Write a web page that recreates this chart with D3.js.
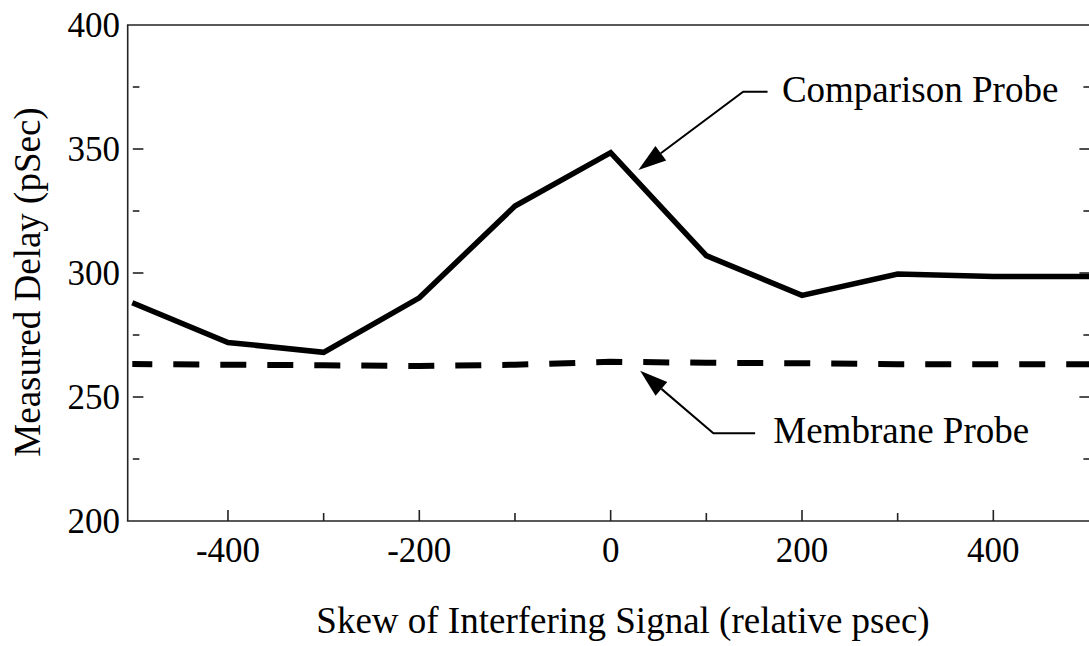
<!DOCTYPE html>
<html><head><meta charset="utf-8">
<script src="https://cdn.jsdelivr.net/npm/d3@7"></script>
<style>html,body{margin:0;padding:0;background:#fff;}</style>
</head><body>
<svg id="chart" width="1089" height="646"></svg>
<script>
const skew = [-500,-400,-300,-200,-100,0,100,200,300,400,500];
const comparisonProbe = [288,272,268,290,327,348.5,307,291,299.6,298.6,298.6];
const membraneProbe = [263.3,263.0,262.8,262.5,263.0,264.2,263.8,263.6,263.2,263.2,263.2];
const xMajorTicks = [-400,-200,0,200,400];
const xMinorTicks = [-300,-100,100,300];
const yMajorTicks = [200,250,300,350,400];
const yMinorTicks = [225,275,325,375];
const xTitle = "Skew of Interfering Signal (relative psec)";
const yTitle = "Measured Delay (pSec)";
const labels = [
  {text:"Comparison Probe", tip:[29,341.5], elbow:[138.5,373.1], end:[164,373.1], textX:179},
  {text:"Membrane Probe", tip:[30.8,260.6], elbow:[107.4,235.4], end:[151,235.4], textX:170}
];

const svg = d3.select("#chart");
const font = "'Liberation Serif','Times New Roman',Times,serif";
const x = d3.scaleLinear().domain([-500,500]).range([132.3,1089]);
const y = d3.scaleLinear().domain([200,400]).range([521,25]);
const axisLeftX = 127.7;
const axisColor = "#222";

// frame: left, top, bottom
svg.append("line").attr("x1",axisLeftX).attr("x2",axisLeftX).attr("y1",y(400)).attr("y2",y(200))
  .attr("stroke",axisColor).attr("stroke-width",1.6);
svg.append("line").attr("x1",axisLeftX-0.8).attr("x2",1095).attr("y1",y(400)).attr("y2",y(400))
  .attr("stroke",axisColor).attr("stroke-width",1.6);
svg.append("line").attr("x1",axisLeftX-0.8).attr("x2",1095).attr("y1",y(200)).attr("y2",y(200))
  .attr("stroke",axisColor).attr("stroke-width",1.6);

// bottom ticks
const tickG = svg.append("g").attr("stroke",axisColor).attr("stroke-width",1.6);
xMajorTicks.forEach(v=>tickG.append("line").attr("x1",x(v)).attr("x2",x(v)).attr("y1",y(200)).attr("y2",y(200)-11));
xMinorTicks.forEach(v=>tickG.append("line").attr("x1",x(v)).attr("x2",x(v)).attr("y1",y(200)).attr("y2",y(200)-8));
// left ticks (offset from axis) and right ticks
const lx0 = x(-500)+0.5, rx0 = 1090;
yMajorTicks.filter(v=>v>200&&v<400).forEach(v=>{
  tickG.append("line").attr("x1",lx0).attr("x2",lx0+10.6).attr("y1",y(v)).attr("y2",y(v));
  tickG.append("line").attr("x1",rx0).attr("x2",rx0-10.6).attr("y1",y(v)).attr("y2",y(v));
});
yMinorTicks.forEach(v=>{
  tickG.append("line").attr("x1",lx0).attr("x2",lx0+6.6).attr("y1",y(v)).attr("y2",y(v));
  tickG.append("line").attr("x1",rx0).attr("x2",rx0-6.6).attr("y1",y(v)).attr("y2",y(v));
});

// tick labels
svg.append("g").selectAll("text").data(yMajorTicks).join("text")
  .attr("x",120).attr("y",d=>y(d)).attr("dy","0.34em").attr("text-anchor","end")
  .attr("font-family",font).attr("font-size",35).attr("fill","#000").text(d=>d);
svg.append("g").selectAll("text").data(xMajorTicks).join("text")
  .attr("x",d=>x(d)).attr("y",561.5).attr("text-anchor","middle")
  .attr("font-family",font).attr("font-size",35).attr("fill","#000").text(d=>d);

// axis titles
svg.append("text").attr("x",623).attr("y",633).attr("text-anchor","middle")
  .attr("font-family",font).attr("font-size",37).attr("fill","#000").text(xTitle);
svg.append("text").attr("transform","translate(40,282) rotate(-90)").attr("text-anchor","middle")
  .attr("font-family",font).attr("font-size",37).attr("fill","#000").text(yTitle);

// lines
const line = d3.line().x((d,i)=>x(skew[i])).y(d=>y(d));
svg.append("path").attr("d",line(membraneProbe)).attr("fill","none").attr("stroke","#000")
  .attr("stroke-width",6).attr("stroke-dasharray","26,21").attr("stroke-dashoffset",6);
svg.append("path").attr("d",line(comparisonProbe)).attr("fill","none").attr("stroke","#000")
  .attr("stroke-width",5.5).attr("stroke-linejoin","miter");

// annotations
labels.forEach(l=>{
  const tip=[x(l.tip[0]),y(l.tip[1])], el=[x(l.elbow[0]),y(l.elbow[1])], en=[x(l.end[0]),y(l.end[1])];
  const dx=el[0]-tip[0], dy=el[1]-tip[1], len=Math.hypot(dx,dy), ux=dx/len, uy=dy/len;
  const hl=28, hw=9;
  const bx=tip[0]+ux*hl, by=tip[1]+uy*hl;
  svg.append("path").attr("d",`M${en[0]},${en[1]}L${el[0]},${el[1]}L${bx},${by}`)
    .attr("fill","none").attr("stroke","#000").attr("stroke-width",2);
  svg.append("path").attr("d",`M${tip[0]},${tip[1]}L${bx-uy*hw},${by+ux*hw}L${bx+uy*hw},${by-ux*hw}Z`)
    .attr("fill","#000");
  svg.append("text").attr("x",x(l.textX)).attr("y",el[1]+10).attr("font-family",font)
    .attr("font-size",37).attr("fill","#000").text(l.text);
});
</script>
</body></html>
